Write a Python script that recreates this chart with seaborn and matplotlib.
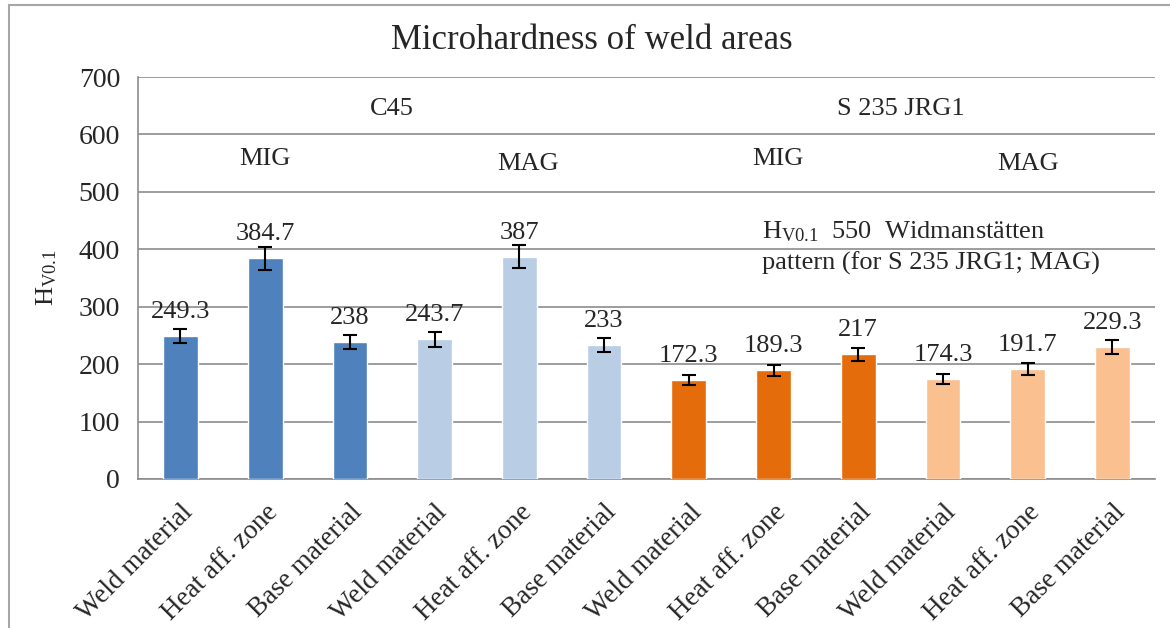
import numpy as np
import pandas as pd
import matplotlib
matplotlib.use('Agg')
import matplotlib.pyplot as plt
import seaborn as sns
from matplotlib.patches import Rectangle

# data
categories = ['Weld material', 'Heat aff. zone', 'Base material'] * 4
groups = ['C45 MIG'] * 3 + ['C45 MAG'] * 3 + ['S235 MIG'] * 3 + ['S235 MAG'] * 3
hardness = [249.3, 384.7, 238, 243.7, 387, 233, 172.3, 189.3, 217, 174.3, 191.7, 229.3]
errors = [12.5, 20, 12.5, 13, 20, 12.5, 9, 10, 11, 9, 10, 12]
value_labels = ['249.3', '384.7', '238', '243.7', '387', '233',
                '172.3', '189.3', '217', '174.3', '191.7', '229.3']
group_colors = {'C45 MIG': '#4F81BD', 'C45 MAG': '#B9CDE5',
                'S235 MIG': '#E46C0A', 'S235 MAG': '#FAC090'}

df = pd.DataFrame({'key': [f'{g} {c}' for g, c in zip(groups, categories)],
                   'group': groups, 'HV': hardness})

sns.set_style('white')
plt.rcParams['font.family'] = ['Liberation Serif', 'DejaVu Serif']
plt.rcParams['mathtext.fontset'] = 'custom'
plt.rcParams['mathtext.rm'] = 'Liberation Serif'
plt.rcParams['mathtext.it'] = 'Liberation Serif:italic'

fig = plt.figure(figsize=(11.7, 6.28), dpi=100)
ax = fig.add_axes([0.118, 0.2373, 0.869, 0.640])

sns.barplot(data=df, x='key', y='HV', hue='group', palette=group_colors,
            dodge=False, width=0.41, saturation=1, legend=False, ax=ax, zorder=3)
xpos = np.arange(len(hardness))
ax.errorbar(xpos, hardness, yerr=errors, fmt='none', ecolor='black',
            elinewidth=1.5, capsize=5, capthick=1.5, zorder=4)
for x, v, lab in zip(xpos, hardness, value_labels):
    ax.annotate(lab, (x, v), xytext=(0, 13), textcoords='offset points',
                ha='center', va='baseline', fontsize=19)

ax.set_ylim(0, 700)
ax.set_xlim(-0.5, 11.5)
ax.set_yticks(range(0, 701, 100))
ax.yaxis.grid(True, color='#8c8c8c', lw=1.2, zorder=0)
ax.set_axisbelow(True)
for s in ['top', 'right']:
    ax.spines[s].set_visible(False)
for s in ['left', 'bottom']:
    ax.spines[s].set_color('#8c8c8c')
    ax.spines[s].set_linewidth(1.2)

ax.set_xticks(xpos)
ax.set_xticklabels(categories, rotation=45, ha='right', va='top',
                   rotation_mode='anchor', fontsize=19.5)
ax.tick_params(axis='x', which='major', length=0, pad=15)
ax.set_xticks(np.arange(-0.5, 12, 1), minor=True)
ax.tick_params(axis='x', which='minor', length=6, width=1.2, color='#8c8c8c', direction='out')
ax.tick_params(axis='y', length=7, width=1.2, color='#8c8c8c', direction='out', labelsize=20, pad=6)
ax.set_xlabel('')
ax.set_ylabel(r'H$_{\mathrm{V0.1}}$', fontsize=19, labelpad=14)

# group annotations
ax.text(2.5, 645, 'C45', ha='center', va='center', fontsize=19)
ax.text(8.5, 645, 'S 235 JRG1', ha='center', va='center', fontsize=19)
ax.text(1.0, 557, 'MIG', ha='center', va='center', fontsize=19)
ax.text(4.1, 548, 'MAG', ha='center', va='center', fontsize=19)
ax.text(7.05, 557, 'MIG', ha='center', va='center', fontsize=19)
ax.text(10.0, 548, 'MAG', ha='center', va='center', fontsize=19)
ax.text(6.86, 430, r'H$_{\mathrm{V0.1}}$  550  Widmanstätten', ha='left', va='center', fontsize=19)
ax.text(6.86, 376, 'pattern (for S 235 JRG1; MAG)', ha='left', va='center', fontsize=19)

fig.text(0.506, 0.936, 'Microhardness of weld areas', ha='center', va='center', fontsize=25)

# outer chart frame
fig.patches.append(Rectangle((9 / 1170, -0.05), 1.2, 1 - 5 / 628 + 0.05,
                             transform=fig.transFigure, fill=False,
                             edgecolor='#a6a6a6', lw=1.5))

fig.savefig('out.png', dpi=100)
